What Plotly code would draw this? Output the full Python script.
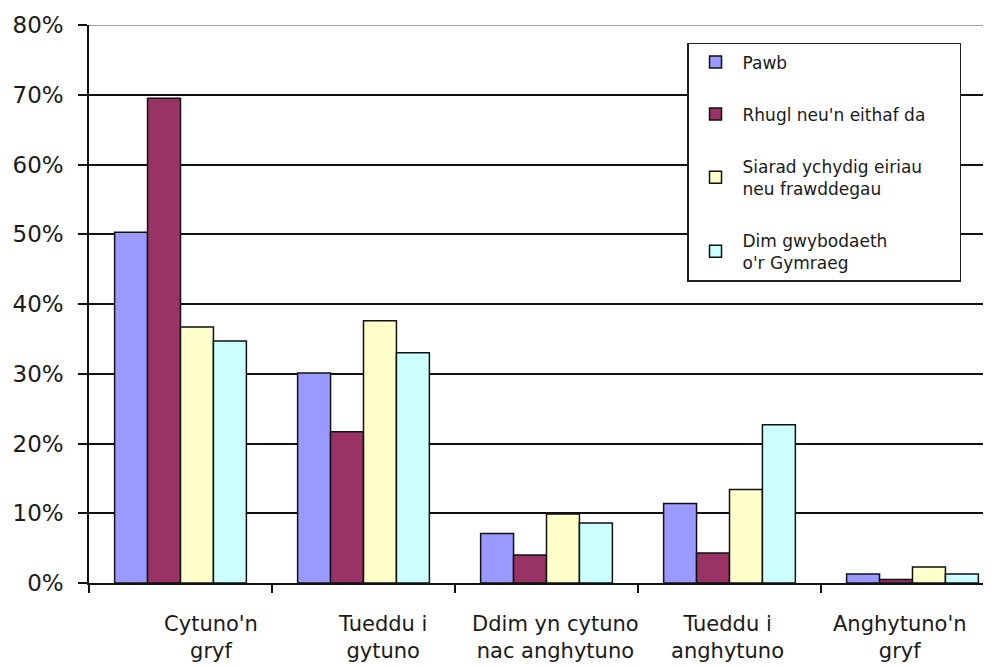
import plotly.graph_objects as go

categories = ["Cytuno'n<br>gryf", "Tueddu i<br>gytuno", "Ddim yn cytuno<br>nac anghytuno",
              "Tueddu i<br>anghytuno", "Anghytuno'n<br>gryf"]
series_names = ["Pawb", "Rhugl neu'n eithaf da",
                "Siarad ychydig eiriau\u00a0\u00a0\u00a0\u00a0\u00a0\u00a0<br>neu frawddegau",
                "Dim gwybodaeth<br>o'r Gymraeg"]
pawb = [50.3, 30.1, 7.1, 11.4, 1.3]
rhugl = [69.5, 21.7, 4.0, 4.3, 0.5]
siarad = [36.7, 37.6, 9.9, 13.4, 2.3]
dim = [34.7, 33.0, 8.6, 22.7, 1.3]
colors = ["#9999FF", "#993366", "#FFFFCC", "#CCFFFF"]
y_ticks = [0, 10, 20, 30, 40, 50, 60, 70, 80]
y_tick_labels = ["0%", "10%", "20%", "30%", "40%", "50%", "60%", "70%", "80%"]

fig = go.Figure()
for i, (name, vals) in enumerate(zip(series_names, [pawb, rhugl, siarad, dim])):
    fig.add_trace(go.Bar(
        x=categories, y=vals, name=name, legendgroup=f"g{i}",
        marker=dict(color=colors[i], line=dict(color="#111111", width=1.5)),
        hoverinfo="skip",
    ))

# helper trace for the label axis
fig.add_trace(go.Scatter(x=categories, y=[0] * len(categories), mode="none",
                         xaxis="x2", showlegend=False, hoverinfo="skip"))

fig.update_layout(
    width=983, height=659,
    margin=dict(l=81, r=0, t=17, b=84, autoexpand=False),
    plot_bgcolor="white", paper_bgcolor="white",
    barmode="group", bargap=0.28, bargroupgap=0,
    font=dict(family="DejaVu Sans", color="#1a1a1a"),
    xaxis=dict(
        type="category", range=[-0.5, 4.429], automargin=False,
        tickson="boundaries", ticks="outside", ticklen=8, tickwidth=1.5, tickcolor="#111",
        showticklabels=False, showgrid=False,
        showline=True, linecolor="#111", linewidth=1.5, fixedrange=True,
    ),
    xaxis2=dict(
        type="category", overlaying="x", anchor="y", side="bottom", automargin=False,
        range=[-0.7085, 4.53], showgrid=False, showline=False, ticks="",
        tickfont=dict(family="DejaVu Sans", size=21, color="#1a1a1a"),
        ticklabelstandoff=26, fixedrange=True,
    ),
    yaxis=dict(
        range=[0, 80], tickvals=y_ticks, ticktext=y_tick_labels, automargin=False,
        showgrid=True, gridcolor="#111", gridwidth=1.5,
        showline=True, linecolor="#111", linewidth=1.5,
        ticks="outside", ticklen=9, tickwidth=1.5, tickcolor="#111",
        tickfont=dict(family="DejaVu Sans", size=23, color="#1a1a1a"),
        ticklabelstandoff=10, zeroline=False, fixedrange=True,
    ),
    legend=dict(
        x=0.663, y=0.968, xanchor="left", yanchor="top",
        bgcolor="white", bordercolor="#222", borderwidth=1.5,
        font=dict(family="DejaVu Sans", size=17, color="#1a1a1a"),
        tracegroupgap=27, itemwidth=44,
    ),
    shapes=[dict(type="line", xref="paper", yref="y", x0=0, x1=1, y0=80, y1=80,
                 line=dict(color="#A0A0A0", width=2), layer="above")],
)

fig.write_html("out.html")
